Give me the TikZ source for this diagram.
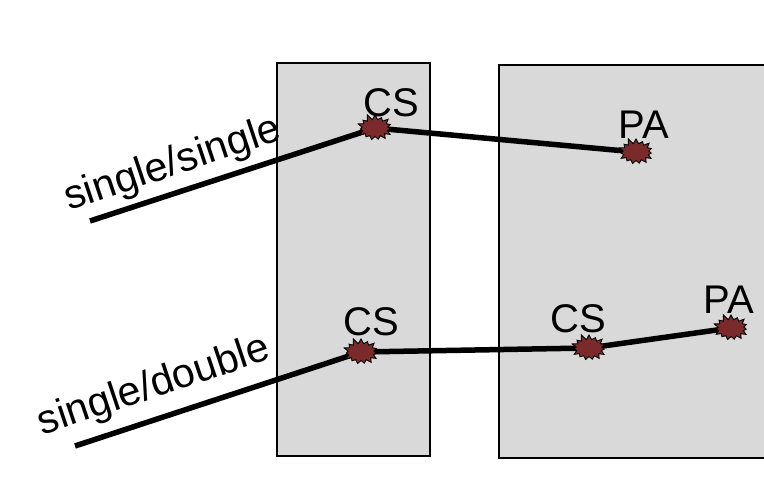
\documentclass[tikz,border=0pt]{standalone}
\usepackage{fontspec}
\setmainfont{Liberation Sans}
\usetikzlibrary{shapes.symbols}
\definecolor{panelgray}{HTML}{D9D9D9}
\definecolor{siteRed}{HTML}{7A2A2A}
\pgfdeclarelayer{boxes}
\pgfdeclarelayer{wires}
\pgfsetlayers{boxes,wires,main}
\tikzset{
  panel/.style={fill=panelgray, draw=black, line width=2pt},
  site/.style={starburst, starburst points=15, starburst point height=6pt,
    random starburst=11, fill=siteRed, draw=black, line width=0.9pt,
    minimum width=38pt, minimum height=29pt, inner sep=0pt},
  wire/.style={line width=5.5pt},
  tag/.style={font=\fontsize{40}{44}\selectfont, inner sep=0pt},
  route/.style={font=\fontsize{41}{44}\selectfont, inner sep=0pt, rotate=18.5}
}
\begin{document}
\begin{tikzpicture}[x=1pt,y=-1pt]
\useasboundingbox (0,0) rectangle (764,489);
\clip (0,0) rectangle (764,489);

% the two compartments
\begin{pgfonlayer}{boxes}
  \node[panel, minimum width=153pt, minimum height=393pt, inner sep=0pt] (left) at (353.5,259.5) {};
  \fill[panelgray] (499,65) rectangle (770,458);
  \draw[line width=2pt] (770,65) -- (499,65) -- (499,458) -- (770,458);
\end{pgfonlayer}

% reaction sites
\node[site] (cs1) at (375,128) {};
\node[site] (pa1) at (636,152) {};
\node[site] (cs2) at (361,352) {};
\node[site] (cs3) at (589,348) {};
\node[site] (pa2) at (731,328) {};

\coordinate (in1) at (90,221);
\coordinate (in2) at (75,446);

% wires running between the sites
\begin{pgfonlayer}{wires}
  \draw[wire] (in1) -- (cs1.center) -- (pa1.center);
  \draw[wire] (in2) -- (cs2.center) -- (cs3.center) -- (pa2.center);
\end{pgfonlayer}

% site labels
\node[tag] (lcs1) at (391,103) {CS};
\node[tag] (lpa1) at (644,125) {PA};
\node[tag] (lcs2) at (371,322) {CS};
\node[tag] (lcs3) at (578,319) {CS};
\node[tag] (lpa2) at (729,300) {PA};

% route labels
\node[route] (r1) at (173,165) {single/single};
\node[route] (r2) at (154,387) {single/double};
\end{tikzpicture}
\end{document}
